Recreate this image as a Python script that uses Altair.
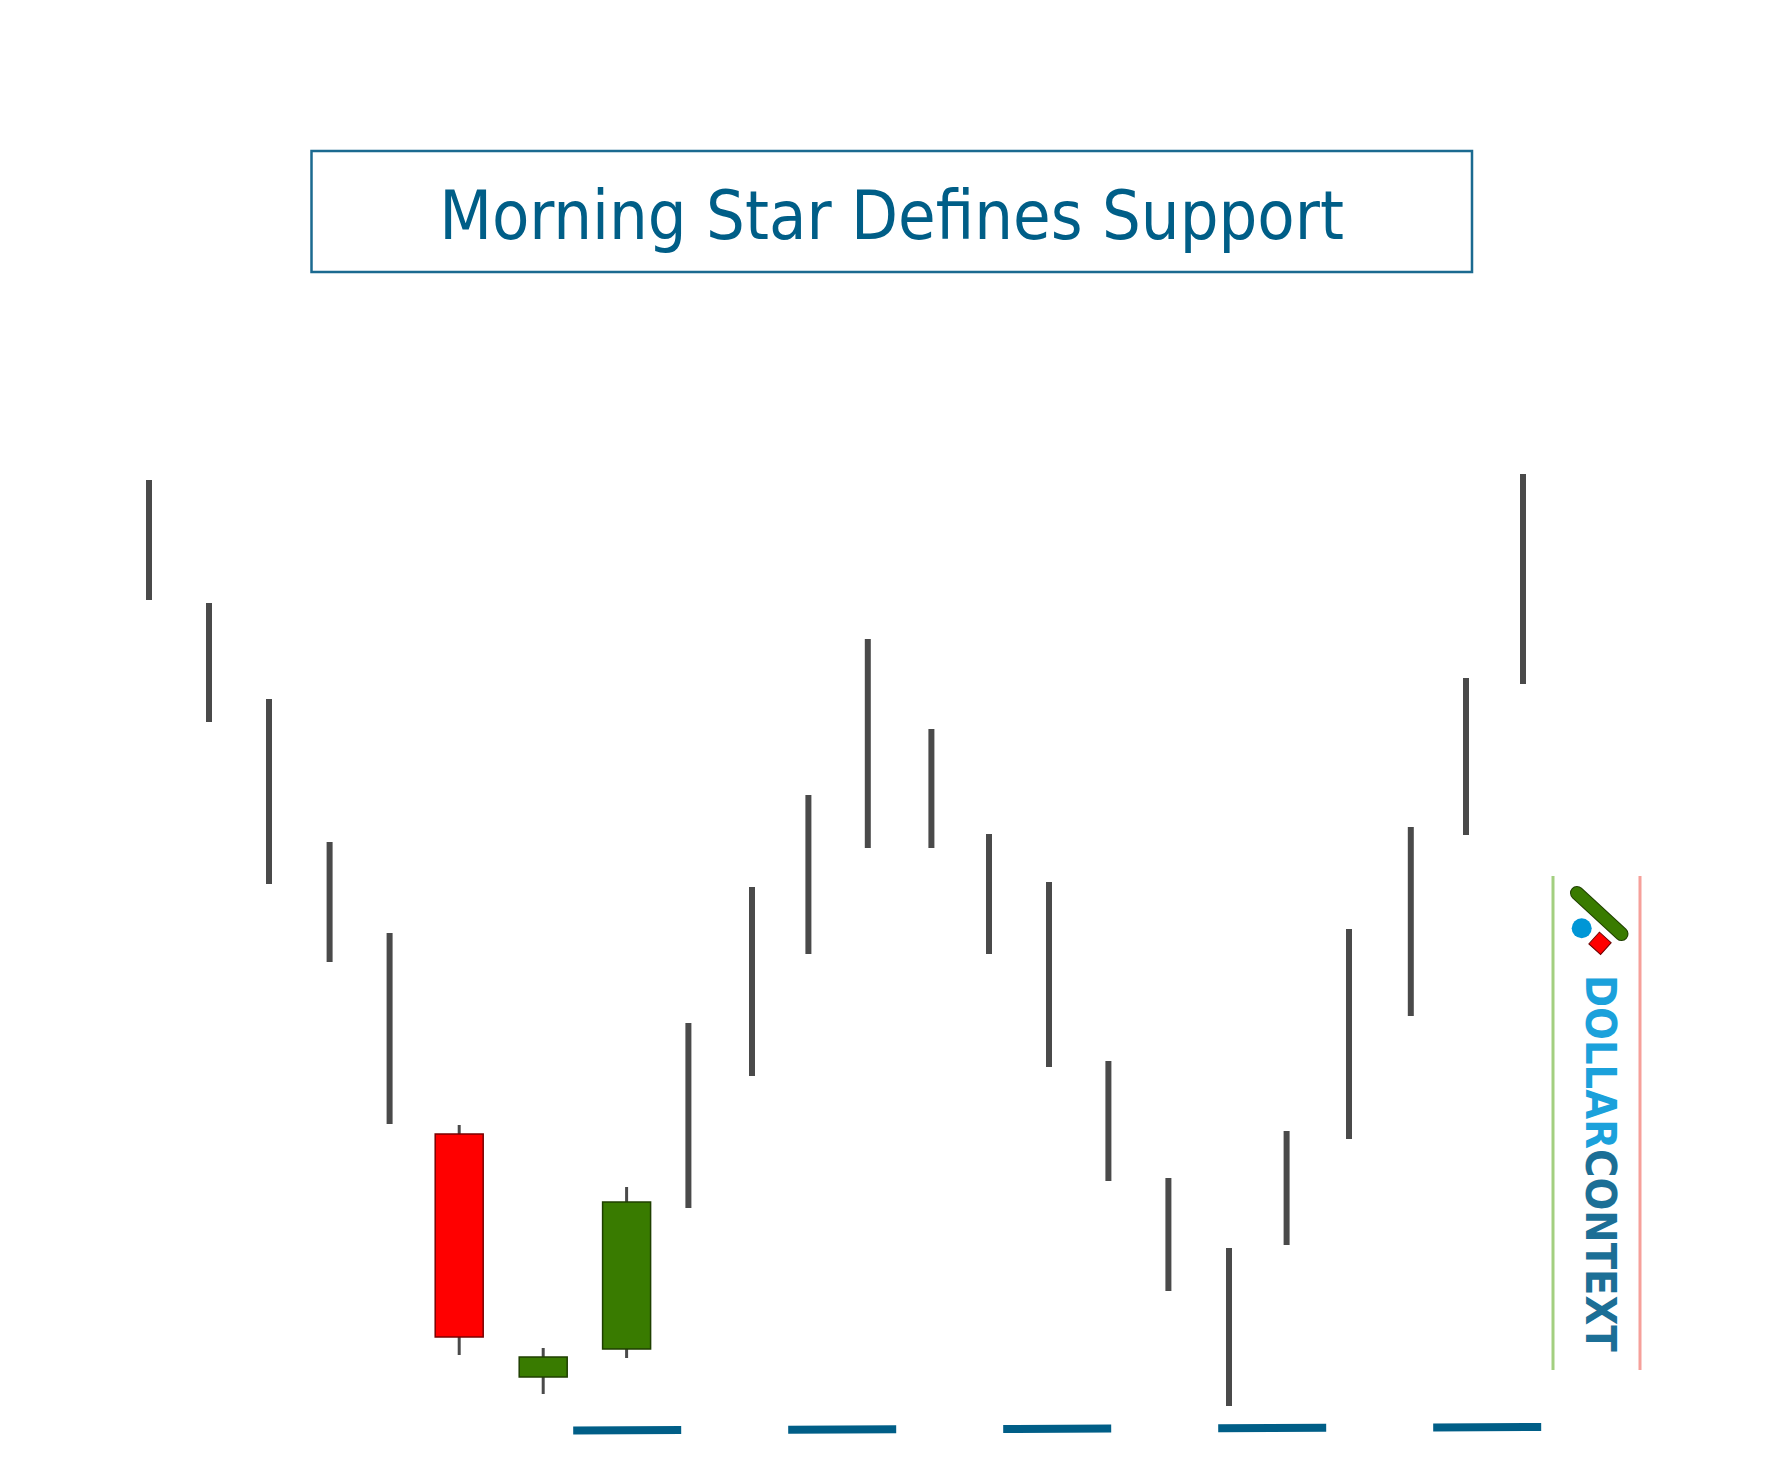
import altair as alt
import pandas as pd

# ---- data ----
sessions = [1.0, 2.0, 3.0, 4.01, 5.01, 6.17, 7.57, 8.96, 9.99, 11.05, 11.99, 12.98,
            14.04, 15.0, 16.0, 16.99, 17.99, 19.0, 19.96, 21.0, 22.03, 22.95, 23.9]
highs = [97.3, 85.0, 75.4, 61.1, 52.0, 32.8, 10.5, 26.6, 43.0, 56.6, 65.8, 81.4,
         72.4, 61.9, 57.1, 39.2, 27.5, 20.5, 32.2, 52.4, 62.6, 77.5, 97.9]
lows = [85.3, 73.1, 56.9, 49.1, 32.9, 9.8, 5.9, 9.5, 24.5, 37.7, 49.9, 60.5,
        60.5, 49.9, 38.6, 27.2, 16.2, 4.7, 20.8, 31.4, 43.7, 61.8, 76.9]
opens = [None] * 5 + [31.9, 7.6, 10.4] + [None] * 15
closes = [None] * 5 + [11.6, 9.6, 25.1] + [None] * 15
kinds = ["bar"] * 5 + ["candle"] * 3 + ["bar"] * 15
directions = [None] * 5 + ["down", "up", "up"] + [None] * 15

support_sessions = [8.07, 24.25]
support_levels = [2.25, 2.6]

title_text = "Morning Star Defines Support"
brand_a = "DOLLAR"
brand_b = "CONTEXT"

df = pd.DataFrame({
    "session": sessions, "high": highs, "low": lows,
    "open": opens, "close": closes, "kind": kinds, "dir": directions,
})
support = pd.DataFrame({"session": support_sessions, "level": support_levels})
one = pd.DataFrame({"a": [0]})

W, H = 1754, 1445
xs = alt.Scale(domain=[-1.35, 27.8833], nice=False, zero=False, padding=0)
ys = alt.Scale(domain=[0, 144.5], nice=False, zero=False, padding=0)
X = alt.X("session:Q", scale=xs, axis=None)

GRAY = "#4a4a4a"
BLUE = "#005e87"
GREEN = "#397b00"
RED = "#ff0000"
FONT = "DejaVu Sans Condensed, Liberation Sans Narrow, sans-serif"

bars = alt.Chart(df).transform_filter(alt.datum.kind == "bar").mark_rule(
    color=GRAY, strokeWidth=6, strokeCap="butt"
).encode(x=X, y=alt.Y("high:Q", scale=ys, axis=None), y2="low:Q")

wicks = alt.Chart(df).transform_filter(alt.datum.kind == "candle").mark_rule(
    color=GRAY, strokeWidth=3, strokeCap="butt"
).encode(x=X, y=alt.Y("high:Q", scale=ys, axis=None), y2="low:Q")

bodies = alt.Chart(df).transform_filter(alt.datum.kind == "candle").mark_bar(
    size=48, strokeWidth=1.5
).encode(
    x=X,
    y=alt.Y("open:Q", scale=ys, axis=None), y2="close:Q",
    fill=alt.Fill("dir:N", scale=alt.Scale(domain=["up", "down"], range=[GREEN, RED]), legend=None),
    stroke=alt.Stroke("dir:N", scale=alt.Scale(domain=["up", "down"], range=["#1f3f00", "#7a0000"]), legend=None),
)

sup = alt.Chart(support).mark_line(
    color=BLUE, strokeWidth=8, strokeDash=[108, 107], strokeCap="butt"
).encode(x=X, y=alt.Y("level:Q", scale=ys, axis=None))

title_box = alt.Chart(one).mark_rect(
    filled=False, stroke="#1b6a90", strokeWidth=2.5
).encode(x=alt.value(303.5), x2=alt.value(1464), y=alt.value(143), y2=alt.value(264))

title = alt.Chart(one).mark_text(
    text=title_text, font=FONT,
    fontSize=68, color=BLUE, align="center", baseline="alphabetic"
).encode(x=alt.value(883.5), y=alt.value(231))

# logo
line_g = alt.Chart(one).mark_rule(color="#a3cf80", strokeWidth=3).encode(
    x=alt.value(1545), y=alt.value(868), y2=alt.value(1362))
line_r = alt.Chart(one).mark_rule(color="#f6a09a", strokeWidth=3).encode(
    x=alt.value(1632), y=alt.value(868), y2=alt.value(1362))
bar_dark = alt.Chart(one).mark_rule(color="#1f3f00", strokeWidth=14, strokeCap="round").encode(
    x=alt.value(1569), x2=alt.value(1613.5), y=alt.value(885), y2=alt.value(926))
bar_green = alt.Chart(one).mark_rule(color=GREEN, strokeWidth=12, strokeCap="round").encode(
    x=alt.value(1569), x2=alt.value(1613.5), y=alt.value(885), y2=alt.value(926))
dot = alt.Chart(one).mark_circle(color="#0096d6", opacity=1, size=400).encode(
    x=alt.value(1573.7), y=alt.value(920.3))
diamond = alt.Chart(one).mark_square(
    fill=RED, stroke="#6a0000", strokeWidth=1, opacity=1, size=250, angle=42
).encode(x=alt.value(1592), y=alt.value(935.3))

brand1 = alt.Chart(one).mark_text(
    text=brand_a, font=FONT, fontWeight="bold", fontSize=43, color="#1ba1db",
    angle=90, align="right", baseline="alphabetic"
).encode(x=alt.value(1578), y=alt.value(1141))
brand2 = alt.Chart(one).mark_text(
    text=brand_b, font=FONT, fontWeight="bold", fontSize=43, color="#1c6f96",
    angle=90, align="left", baseline="alphabetic"
).encode(x=alt.value(1578), y=alt.value(1141))

chart = alt.layer(
    title_box, title, sup, bars, wicks, bodies,
    line_g, line_r, bar_dark, bar_green, dot, diamond, brand1, brand2
).properties(
    width=W, height=H, padding=0, autosize=alt.AutoSizeParams(type="none")
).configure_view(strokeWidth=0)

chart.save("out.html", embed_options={"renderer": "svg", "actions": False})
